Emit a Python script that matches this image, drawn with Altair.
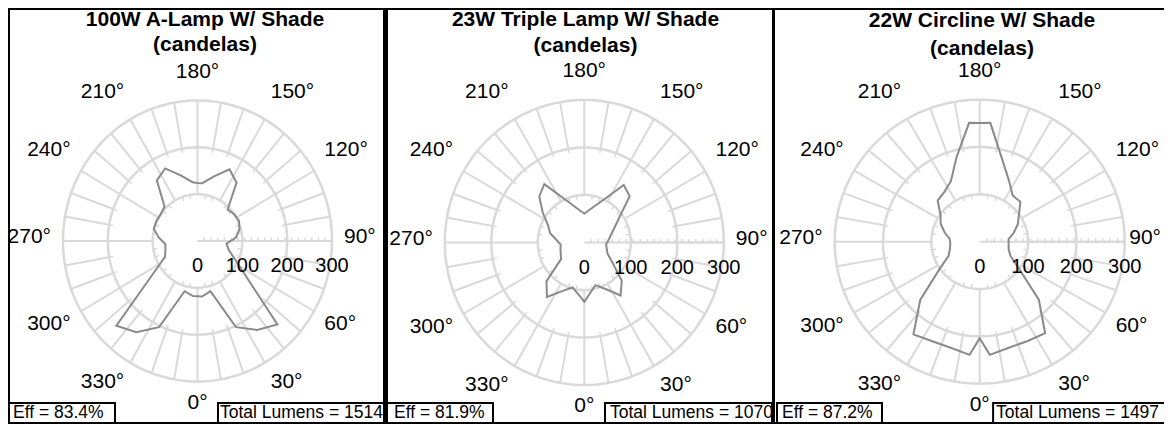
import math
import altair as alt
import pandas as pd

# ---------------- data ----------------
ANGLES = [0, 5, 15, 25, 35, 45, 55, 65, 75, 85,
          95, 105, 115, 125, 135, 145, 155, 165, 175,
          180,
          185, 195, 205, 215, 225, 235, 245, 255, 265,
          275, 285, 295, 305, 315, 325, 335, 345, 355]

A_LAMP = [118, 119, 111, 203, 232, 252, 133, 92, 72, 65,
          86, 97, 102, 100, 95, 152, 169, 143, 124,
          124,
          126, 145, 171, 158, 104, 100, 101, 101, 87,
          72, 74, 80, 120, 256, 238, 203, 111, 118]

TRIPLE = [125, 111, 93, 108, 136, 114, 74, 55, 50, 47,
          52, 59, 71, 92, 138, 148, 100, 78, 65,
          61,
          65, 78, 101, 150, 137, 109, 86, 76, 60,
          51, 53, 56, 61, 115, 140, 113, 98, 113]

CIRCLINE = [204, 240, 232, 232, 236, 173, 99, 70, 62, 60,
            60, 73, 87, 99, 119, 119, 143, 180, 252,
            251,
            252, 185, 141, 128, 123, 99, 89, 75, 62,
            61, 64, 71, 102, 174, 239, 232, 232, 240]

SERIES = [A_LAMP, TRIPLE, CIRCLINE]
TITLES = ["100W A-Lamp W/ Shade", "23W Triple Lamp W/ Shade", "22W Circline W/ Shade"]
SUBTITLE = "(candelas)"
EFF_TEXT = ["Eff = 83.4%", "Eff = 81.9%", "Eff = 87.2%"]
LUMEN_TEXT = ["Total Lumens = 1514", "Total Lumens = 1070", "Total Lumens = 1497"]

RINGS = [100, 200, 300]
RADIAL_LABELS = [0, 100, 200, 300]
ANGLE_LABELS = list(range(0, 360, 30))
SPOKE_ANGLES = list(range(0, 360, 10))
AXIS_TICKS = list(range(15, 300, 15))
RMAX = 300

# ---------------- layout (pixels, relative to each panel) ----------------
H = 416
PANELS = [
    dict(w=377, cx=189.5, cy=233.0, rx=134.5, ry=140.5, tx=197, t1=12, t2=37,
         eff=(1, 107), lum=(210, 376), effx=5, lumx=212, fit=False,
         frame=dict(left=(1, 2), right=(376, 2))),
    dict(w=387, cx=199.3, cy=234.5, rx=139.5, ry=142.5, tx=200.5, t1=12, t2=38,
         eff=(2, 108), lum=(220, 387), effx=9, lumx=225, fit=False,
         frame=dict(left=(1.5, 3))),
    dict(w=392, cx=207.7, cy=233.7, rx=145.0, ry=142.0, tx=210, t1=12.5, t2=41,
         eff=(5, 110), lum=(236, 402), effx=10, lumx=240, fit=True,
         frame=dict(left=(1.5, 3))),
]

FONT = "Liberation Sans"
GRID = "#d9d9d9"
LINE = "#8a8a8a"
RAD = "PI/180"
LABEL_SIZE = 21
BOX_SIZE = 17.5

# approximate Arial/Liberation Sans advance widths (em) used to keep texts inside
CHAR_W = {"T": .611, "o": .556, "t": .278, "a": .556, "l": .222, " ": .278, "L": .556,
          "u": .556, "m": .833, "e": .556, "n": .556, "s": .5, "=": .584, "°": .4,
          ".": .278, "%": .889, "E": .667, "f": .278}


def text_width(s, size):
    return sum(CHAR_W.get(ch, .556) for ch in s) * size


def make_panel(i):
    p = PANELS[i]
    kx = p["rx"] / RMAX
    ky = p["ry"] / RMAX
    xs = alt.Scale(domain=[-p["cx"] / kx, (p["w"] - p["cx"]) / kx], nice=False, zero=False)
    ys = alt.Scale(domain=[-(H - p["cy"]) / ky, p["cy"] / ky], nice=False, zero=False)

    def X(f):
        return alt.X(f"{f}:Q", scale=xs, axis=None)

    def Y(f):
        return alt.Y(f"{f}:Q", scale=ys, axis=None)

    # rings
    ring_df = pd.DataFrame([{"ring": r, "a": a} for r in RINGS for a in range(0, 360, 2)])
    rings = alt.Chart(ring_df).transform_calculate(
        x=f"datum.ring*sin(datum.a*{RAD})", y=f"-datum.ring*cos(datum.a*{RAD})"
    ).mark_line(interpolate="linear-closed", color=GRID, strokeWidth=2.5, clip=True).encode(
        x=X("x"), y=Y("y"), detail="ring:N", order="a:Q")

    # spokes: every 10 deg in the outer band, every 30 deg from ring 100 out
    spoke_df = pd.DataFrame({"a": SPOKE_ANGLES})
    spokes = alt.Chart(spoke_df).transform_calculate(
        r0="datum.a % 30 == 0 ? 100 : 200"
    ).transform_calculate(
        x=f"datum.r0*sin(datum.a*{RAD})", y=f"-datum.r0*cos(datum.a*{RAD})",
        x2=f"{RMAX}*sin(datum.a*{RAD})", y2=f"-{RMAX}*cos(datum.a*{RAD})"
    ).mark_rule(color=GRID, strokeWidth=2, clip=True).encode(
        x=X("x"), y=Y("y"), x2="x2:Q", y2="y2:Q")

    # small inward ticks on rings 100 and 200
    tick_len = 4.0 / kx
    rt_df = pd.DataFrame([{"a": a, "ring": r} for r in RINGS[:2] for a in SPOKE_ANGLES if a % 30 != 0])
    ring_ticks = alt.Chart(rt_df).transform_calculate(
        x=f"(datum.ring-{tick_len})*sin(datum.a*{RAD})", y=f"-(datum.ring-{tick_len})*cos(datum.a*{RAD})",
        x2=f"datum.ring*sin(datum.a*{RAD})", y2=f"-datum.ring*cos(datum.a*{RAD})"
    ).mark_rule(color=GRID, strokeWidth=1.5, clip=True).encode(
        x=X("x"), y=Y("y"), x2="x2:Q", y2="y2:Q")

    # radial axis along 90 deg
    axis = alt.Chart(pd.DataFrame({"x": [0], "x2": [RMAX], "y": [0]})).mark_rule(
        color=GRID, strokeWidth=2, clip=True).encode(x=X("x"), x2="x2:Q", y=Y("y"))
    at_df = pd.DataFrame({"x": AXIS_TICKS, "y": [0] * len(AXIS_TICKS),
                          "y2": [3.5 / ky] * len(AXIS_TICKS)})
    axis_ticks = alt.Chart(at_df).mark_rule(color=GRID, strokeWidth=1.5, clip=True).encode(
        x=X("x"), y=Y("y"), y2="y2:Q")

    # the candela polygon
    poly_df = pd.DataFrame({"ang": ANGLES, "cd": SERIES[i], "i": list(range(len(ANGLES)))})
    poly = alt.Chart(poly_df).transform_calculate(
        x=f"datum.cd*sin(datum.ang*{RAD})", y=f"-datum.cd*cos(datum.ang*{RAD})"
    ).mark_line(interpolate="linear-closed", color=LINE, strokeWidth=2, clip=True).encode(
        x=X("x"), y=Y("y"), order="i:Q")

    # radial value labels
    rl_df = pd.DataFrame({"v": RADIAL_LABELS, "t": [str(v) for v in RADIAL_LABELS]})
    rl_df["y"] = -25.0 / ky
    rad_labels = alt.Chart(rl_df).mark_text(
        font=FONT, fontSize=20, align="center", baseline="middle", color="black", clip=True).encode(
        x=X("v"), y=Y("y"), text="t:N")

    # angle labels (right-side labels kept inside the panel)
    lrx = p["rx"] + 12
    lry = p["ry"] + 16
    rows = []
    for a in ANGLE_LABELS:
        s = math.sin(math.radians(a))
        c = math.cos(math.radians(a))
        side = "left" if s > 0.1 else ("right" if s < -0.1 else "center")
        off = 9 if c > 0.1 else (-9 if c < -0.1 else 0)
        down = lry * c + off - 4
        t = f"{a}°"
        ax = lrx * s
        if side == "left":
            ax = min(ax, p["w"] - p["cx"] - text_width(t, LABEL_SIZE) - 3)
        rows.append({"t": t, "x": ax / kx, "y": -down / ky, "side": side})
    al_df = pd.DataFrame(rows)
    ang_layers = []
    for side in ["left", "right", "center"]:
        ang_layers.append(
            alt.Chart(al_df).transform_filter(alt.datum.side == side).mark_text(
                font=FONT, fontSize=LABEL_SIZE, align=side, baseline="middle", color="black",
                clip=True).encode(x=X("x"), y=Y("y"), text="t:N"))

    # titles
    one = pd.DataFrame({"t1": [TITLES[i]], "t2": [SUBTITLE], "e": [EFF_TEXT[i]], "l": [LUMEN_TEXT[i]]})
    title1 = alt.Chart(one).mark_text(font=FONT, fontSize=21, fontWeight="bold", clip=True,
                                      align="center", baseline="middle", color="black").encode(
        x=alt.value(p["tx"]), y=alt.value(p["t1"]), text="t1:N")
    title2 = alt.Chart(one).mark_text(font=FONT, fontSize=21, fontWeight="bold", clip=True,
                                      align="center", baseline="middle", color="black").encode(
        x=alt.value(p["tx"]), y=alt.value(p["t2"]), text="t2:N")

    # frame lines drawn inside the view
    fr = p["frame"]
    frame = []
    frame.append(alt.Chart(one).mark_rule(color="black", strokeWidth=2, clip=True).encode(
        x=alt.value(0), x2=alt.value(p["w"]), y=alt.value(1)))
    frame.append(alt.Chart(one).mark_rule(color="black", strokeWidth=2, clip=True).encode(
        x=alt.value(0), x2=alt.value(p["w"]), y=alt.value(H - 1)))
    for key in ["left", "right"]:
        if key in fr:
            xv, sw = fr[key]
            frame.append(alt.Chart(one).mark_rule(color="black", strokeWidth=sw, clip=True).encode(
                x=alt.value(xv), y=alt.value(0), y2=alt.value(H)))

    # boxes at the bottom (the last panel's lumen text is kept inside the panel)
    if p["fit"]:
        lumx = min(p["lumx"], p["w"] - text_width(LUMEN_TEXT[i], BOX_SIZE) - 3)
        lum_left, lum_right = lumx - 3, p["w"] + 10
    else:
        lumx = p["lumx"]
        lum_left, lum_right = p["lum"]
    eff_box = alt.Chart(one).mark_rect(fill="white", stroke="black", strokeWidth=2, clip=True).encode(
        x=alt.value(p["eff"][0]), x2=alt.value(p["eff"][1]), y=alt.value(H - 21), y2=alt.value(H - 1))
    lum_box = alt.Chart(one).mark_rect(fill="white", stroke="black", strokeWidth=2, clip=True).encode(
        x=alt.value(lum_left), x2=alt.value(lum_right), y=alt.value(H - 21), y2=alt.value(H - 1))
    eff_txt = alt.Chart(one).mark_text(font=FONT, fontSize=BOX_SIZE, align="left", baseline="middle",
                                       color="black", clip=True).encode(
        x=alt.value(p["effx"]), y=alt.value(H - 11), text="e:N")
    lum_txt = alt.Chart(one).mark_text(font=FONT, fontSize=BOX_SIZE, align="left", baseline="middle",
                                       color="black", clip=True).encode(
        x=alt.value(lumx), y=alt.value(H - 11), text="l:N")

    return alt.layer(rings, spokes, ring_ticks, axis, axis_ticks, poly, rad_labels,
                     *ang_layers, title1, title2, *frame, eff_box, lum_box, eff_txt, lum_txt
                     ).properties(width=p["w"], height=H)


chart = alt.hconcat(*[make_panel(i) for i in range(3)], spacing=0, bounds="flush").properties(
    padding=0, background="white"
).configure_view(strokeWidth=0, stroke=None)

chart.save("out.html", embed_options={"renderer": "svg", "actions": False})
